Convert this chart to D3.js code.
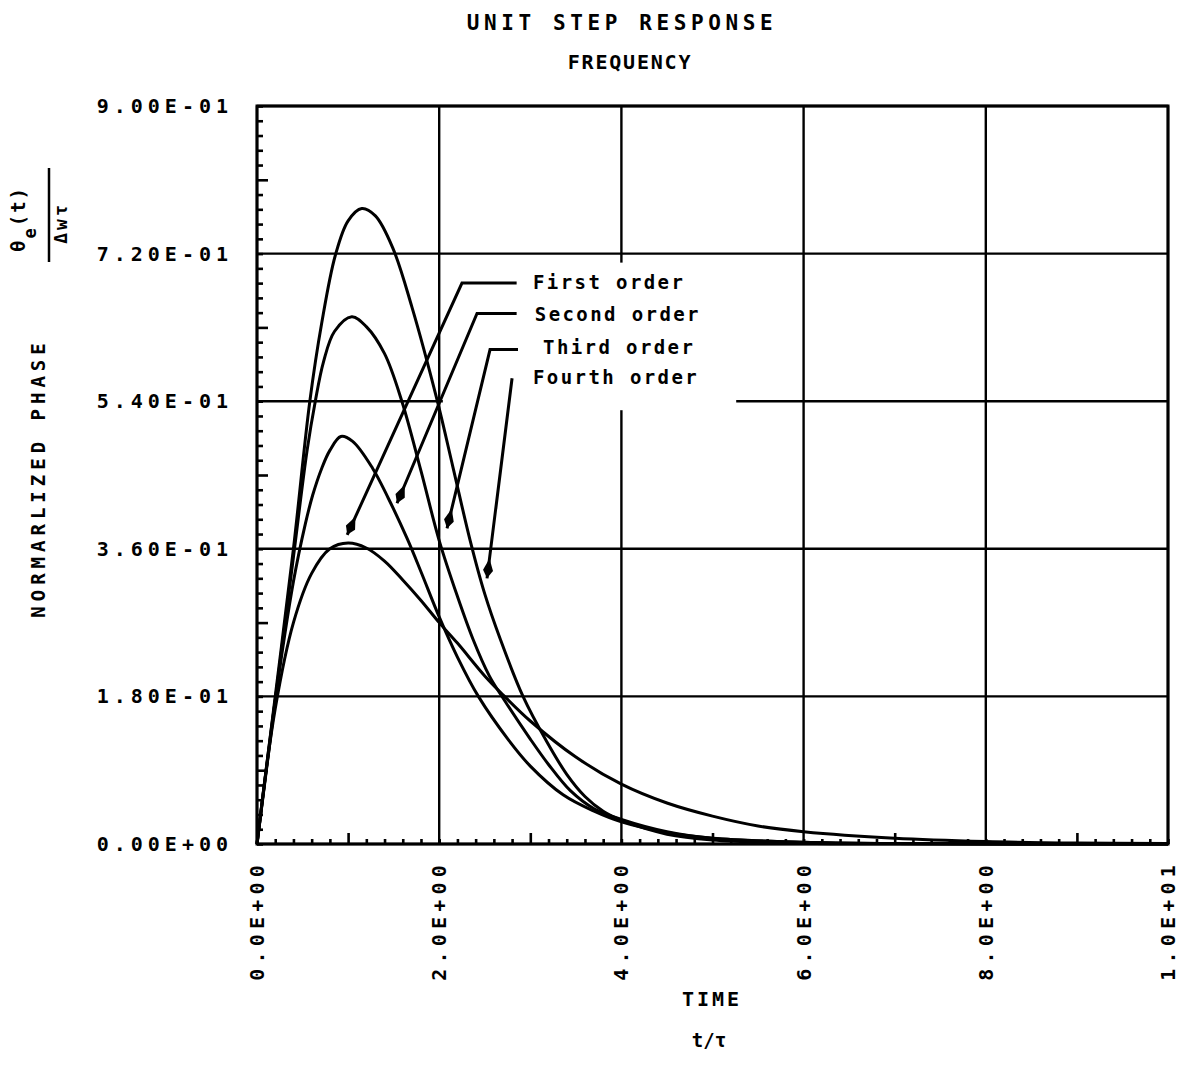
<!DOCTYPE html>
<html>
<head>
<meta charset="utf-8">
<script src="https://cdn.jsdelivr.net/npm/d3@7"></script>
<style>
  body { margin: 0; background: #fff; }
  text { font-family: "DejaVu Sans Mono", monospace; font-weight: bold; fill: #000; }
</style>
</head>
<body>
<svg id="chart"></svg>
<script>
// values (t/tau, normalized phase)
const tFirst  = [0, 0.2, 0.4, 0.6, 0.8, 1.0, 1.2, 1.4, 1.6, 1.8, 2.0, 2.2, 2.5, 2.7, 3.0, 3.5, 4.0, 4.5, 5.0, 5.5, 6.0, 7.0, 8.0, 9.0, 10];
const vFirst  = [0, 0.165, 0.27, 0.33, 0.36, 0.367, 0.361, 0.345, 0.322, 0.297, 0.27, 0.245, 0.205, 0.182, 0.15, 0.106, 0.073, 0.05, 0.034, 0.022, 0.015, 0.007, 0.003, 0.0012, 0.0005];

const tSecond = [0, 0.2, 0.4, 0.53, 0.61, 0.71, 0.8, 0.92, 1.05, 1.27, 1.44, 1.65, 1.8, 2.0, 2.2, 2.43, 2.76, 3.0, 3.36, 3.7, 4.0, 4.5, 5.0, 6.0, 7.0, 10];
const vSecond = [0, 0.175, 0.32, 0.39, 0.425, 0.458, 0.48, 0.497, 0.491, 0.458, 0.422, 0.372, 0.332, 0.277, 0.228, 0.18, 0.127, 0.095, 0.06, 0.04, 0.027, 0.014, 0.007, 0.002, 0.0005, 0];

const tThird  = [0, 0.2, 0.4, 0.55, 0.64, 0.73, 0.85, 1.04, 1.2, 1.4, 1.59, 1.8, 2.0, 2.2, 2.37, 2.55, 2.7, 3.0, 3.2, 3.44, 3.7, 4.0, 4.5, 5.0, 6.0, 7.0, 10];
const vThird  = [0, 0.175, 0.35, 0.48, 0.54, 0.588, 0.625, 0.643, 0.631, 0.598, 0.54, 0.455, 0.37, 0.302, 0.25, 0.205, 0.178, 0.128, 0.097, 0.065, 0.043, 0.03, 0.015, 0.007, 0.002, 0.0005, 0];

const tFourth = [0, 0.2, 0.4, 0.58, 0.71, 0.86, 1.0, 1.15, 1.3, 1.49, 1.7, 1.98, 2.15, 2.34, 2.5, 2.67, 2.92, 3.18, 3.4, 3.6, 3.8, 4.0, 4.5, 5.0, 6.0, 7.0, 10];
const vFourth = [0, 0.18, 0.36, 0.54, 0.635, 0.718, 0.76, 0.775, 0.766, 0.727, 0.655, 0.54, 0.46, 0.37, 0.305, 0.25, 0.18, 0.125, 0.085, 0.058, 0.04, 0.029, 0.012, 0.005, 0.001, 0.0002, 0];

const xTicks = [0, 2, 4, 6, 8, 10];
const yTicks = [0, 0.18, 0.36, 0.54, 0.72, 0.9];

const orderLabels = ["First order", "Second order", "Third order", "Fourth order"];
// leader line vertices in data units, last point is the arrow tip
const leaderPoints = [
  [[2.85, 0.684], [2.25, 0.684], [0.99, 0.377]],
  [[2.85, 0.647], [2.415, 0.647], [1.537, 0.4156]],
  [[2.865, 0.603], [2.558, 0.603], [2.086, 0.385]],
  [[2.80, 0.568], [2.525, 0.324]]
];
const labelAnchors = [[3.03, 0.685], [3.05, 0.646], [3.14, 0.606], [3.03, 0.569]];

const W = 1181, H = 1082;
const svg = d3.select("#chart").attr("width", W).attr("height", H);
svg.append("rect").attr("width", W).attr("height", H).attr("fill", "#fff");

const plot = { left: 257, right: 1168, top: 106, bottom: 844 };

const x = d3.scaleLinear().domain([0, 10]).range([plot.left, plot.right]);
const y = d3.scaleLinear().domain([0, 0.9]).range([plot.bottom, plot.top]);

const sci = (v, d) => {
  const [m, e] = v.toExponential(d).split("e");
  const n = +e;
  return m + "E" + (n < 0 ? "-" : "+") + String(Math.abs(n)).padStart(2, "0");
};

// grid
const grid = svg.append("g").attr("stroke", "#000").attr("stroke-width", 2.4);
grid.selectAll("line.gx").data(xTicks).join("line")
  .attr("x1", d => x(d)).attr("x2", d => x(d))
  .attr("y1", plot.top).attr("y2", plot.bottom);
grid.selectAll("line.gy").data(yTicks).join("line")
  .attr("x1", plot.left).attr("x2", plot.right)
  .attr("y1", d => y(d)).attr("y2", d => y(d));

// minor ticks pointing into the plot
const xMinor = d3.range(0, 10.001, 0.2).map(d => +d.toFixed(1));
const yMinor = d3.range(0, 0.9001, 0.018).map(d => +d.toFixed(3));
const isHalf = (v, step) => Math.abs(v / step - Math.round(v / step)) < 1e-6;

const xAxis = svg.append("g")
  .attr("transform", `translate(0,${plot.bottom})`)
  .call(d3.axisBottom(x).tickValues(xMinor).tickSize(0).tickFormat(""));
xAxis.selectAll(".tick line")
  .attr("y2", d => isHalf(d - 1, 2) ? -11 : -5)
  .attr("stroke-width", 2.6);
xAxis.select(".domain").remove();

const yAxis = svg.append("g")
  .attr("transform", `translate(${plot.left},0)`)
  .call(d3.axisLeft(y).tickValues(yMinor).tickSize(0).tickFormat(""));
yAxis.selectAll(".tick line")
  .attr("x2", d => isHalf(d - 0.09, 0.18) ? 11 : 6)
  .attr("stroke-width", 2.6);
yAxis.select(".domain").remove();

// frame
svg.append("rect")
  .attr("x", plot.left).attr("y", plot.top)
  .attr("width", plot.right - plot.left).attr("height", plot.bottom - plot.top)
  .attr("fill", "none").attr("stroke", "#000").attr("stroke-width", 3);

// curves
const line = d3.line().x(d => x(d[0])).y(d => Math.min(y(d[1]), plot.bottom))
  .curve(d3.curveCatmullRom.alpha(0.5));
const series = [[tFirst, vFirst], [tSecond, vSecond], [tThird, vThird], [tFourth, vFourth]];
for (const [ts, vs] of series) {
  svg.append("path")
    .datum(ts.map((t, i) => [t, vs[i]]))
    .attr("fill", "none")
    .attr("stroke", "#000")
    .attr("stroke-width", 3)
    .attr("stroke-linejoin", "round")
    .attr("d", line);
}

// blank patch behind the legend
svg.append("rect")
  .attr("x", x(2.04)).attr("y", y(0.709))
  .attr("width", x(5.26) - x(2.04)).attr("height", y(0.529) - y(0.709))
  .attr("fill", "#fff");

// leaders + arrowheads
const leader = d3.line().x(d => x(d[0])).y(d => y(d[1]));
leaderPoints.forEach(pts => {
  svg.append("path").datum(pts)
    .attr("fill", "none").attr("stroke", "#000").attr("stroke-width", 3)
    .attr("d", leader);
  const [a, b] = pts.slice(-2);
  const ax = x(a[0]), ay = y(a[1]), bx = x(b[0]), by = y(b[1]);
  const len = Math.hypot(bx - ax, by - ay);
  const ux = (bx - ax) / len, uy = (by - ay) / len;
  const L = 20, w = 5;
  const px = bx - ux * L, py = by - uy * L;
  const mx = bx - ux * L * 0.4, my = by - uy * L * 0.4;
  svg.append("path")
    .attr("d", `M${bx},${by} L${mx - uy * w},${my + ux * w} L${px},${py} L${mx + uy * w},${my - ux * w} Z`)
    .attr("fill", "#000");
});

svg.selectAll("text.order").data(orderLabels).join("text")
  .attr("class", "order")
  .attr("x", (d, i) => x(labelAnchors[i][0]))
  .attr("y", (d, i) => y(labelAnchors[i][1]) + 7)
  .attr("font-size", 19)
  .attr("letter-spacing", 2.4)
  .text(d => d);

// tick labels
svg.selectAll("text.ylab").data(yTicks).join("text")
  .attr("class", "ylab")
  .attr("x", 233).attr("y", d => y(d) + 7)
  .attr("text-anchor", "end")
  .attr("font-size", 20)
  .attr("letter-spacing", 5)
  .text(d => sci(d, 2));

svg.selectAll("text.xlab").data(xTicks).join("text")
  .attr("class", "xlab")
  .attr("transform", d => `translate(${x(d) + 7},860) rotate(-90)`)
  .attr("text-anchor", "end")
  .attr("font-size", 20)
  .attr("letter-spacing", 5.2)
  .text(d => sci(d, 1));

// titles
svg.append("text").attr("x", 622).attr("y", 30).attr("text-anchor", "middle")
  .attr("font-size", 21).attr("letter-spacing", 4.6).text("UNIT STEP RESPONSE");
svg.append("text").attr("x", 630).attr("y", 69).attr("text-anchor", "middle")
  .attr("font-size", 20).attr("letter-spacing", 1.8).text("FREQUENCY");

svg.append("text").attr("x", 712).attr("y", 1006).attr("text-anchor", "middle")
  .attr("font-size", 20).attr("letter-spacing", 3).text("TIME");
svg.append("text").attr("x", 709).attr("y", 1047).attr("text-anchor", "middle")
  .attr("font-size", 19).text("t/τ");

svg.append("text")
  .attr("transform", "translate(45,478) rotate(-90)")
  .attr("text-anchor", "middle")
  .attr("font-size", 19).attr("letter-spacing", 5)
  .text("NORMARLIZED PHASE");

// fraction label
const frac = svg.append("g").attr("transform", "translate(49,215) rotate(-90)");
frac.append("line").attr("x1", -47).attr("x2", 47).attr("y1", 0).attr("y2", 0)
  .attr("stroke", "#000").attr("stroke-width", 2.5);
const num = frac.append("text").attr("x", -4).attr("y", -24)
  .attr("text-anchor", "middle").attr("font-size", 19).attr("letter-spacing", 2);
num.append("tspan").text("θ");
num.append("tspan").attr("dy", 11).attr("font-size", 17).text("e");
num.append("tspan").attr("dy", -11).text("(t)");
frac.append("text").attr("x", -8).attr("y", 18)
  .attr("text-anchor", "middle").attr("font-size", 18).attr("letter-spacing", 3)
  .text("Δwτ");
</script>
</body>
</html>
